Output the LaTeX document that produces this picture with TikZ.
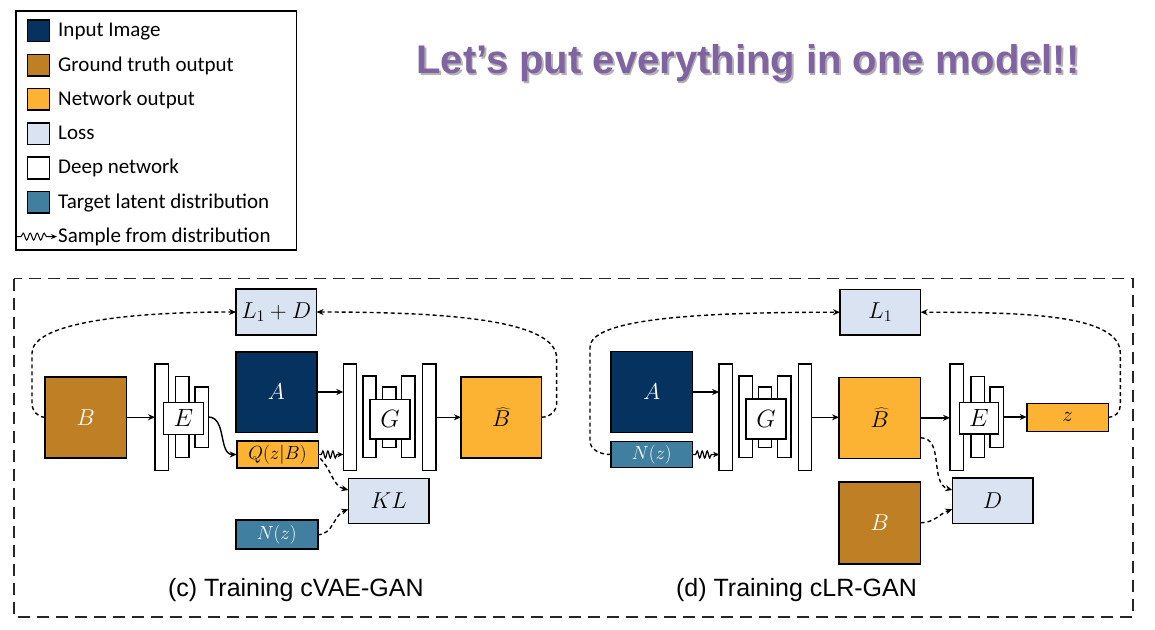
\documentclass[tikz,border=0pt]{standalone}
\usepackage{fix-cm}
\usepackage[no-math]{fontspec}
\setmainfont{Liberation Sans}
\newfontfamily\legfont{Carlito}
\usetikzlibrary{arrows.meta,decorations.pathmorphing,calc}
\definecolor{cin}{HTML}{05325E}
\definecolor{cgt}{HTML}{BF8025}
\definecolor{cnet}{HTML}{FCB232}
\definecolor{closs}{HTML}{DAE3F2}
\definecolor{clat}{HTML}{417FA0}
\definecolor{cpurple}{HTML}{8064A2}
\newcommand\mfont{\fontsize{23}{26}\selectfont}
\newcommand\bigmfont{\fontsize{25}{28}\selectfont}
\newcommand\smfont{\fontsize{19}{21}\selectfont}
\tikzset{
  box/.style={draw=black, line width=1.6pt, rectangle, inner sep=0pt, outer sep=0pt, anchor=center, font=\mfont},
  bar/.style={box, fill=white, minimum width=13.3pt},
  conn/.style={line width=1.4pt, -{Stealth[length=7pt,width=6pt]}},
  dconn/.style={conn, dash pattern=on 4pt off 3pt},
  wave/.style={line width=1.2pt, -{Stealth[length=6pt,width=5.5pt]}, decorate,
    decoration={snake, amplitude=3.5pt, segment length=5pt, pre length=3pt, post length=6pt}},
  swatch/.style={draw=black, line width=1.6pt, minimum width=22pt, minimum height=21.5pt, inner sep=0pt, anchor=center},
  legtext/.style={font=\legfont\fontsize{21}{24}\selectfont, anchor=base west, inner sep=0pt},
  caption/.style={font=\fontsize{25}{30}\selectfont, anchor=base, inner sep=0pt},
  titlefont/.style={font=\fontsize{40}{44}\bfseries\selectfont, anchor=base, inner sep=0pt},
}
\begin{document}
\begin{tikzpicture}[x=1pt,y=1pt]
\useasboundingbox (0,0) rectangle (1155,-629);
\fill[white] (0,0) rectangle (1155,-629);

% ---------------- legend ----------------
\node[draw=black, line width=1.6pt, minimum width=280.7pt, minimum height=239pt, anchor=north west, inner sep=0pt] (legend) at (15,-10) {};
\node[swatch, fill=cin]   (s1) at (38.3,-30.8) {};
\node[swatch, fill=cgt]   (s2) at (38.3,-65.1) {};
\node[swatch, fill=cnet]  (s3) at (38.3,-99.4) {};
\node[swatch, fill=closs] (s4) at (38.3,-133.7) {};
\node[swatch, fill=white] (s5) at (38.3,-168.0) {};
\node[swatch, fill=clat]  (s6) at (38.3,-202.3) {};
\coordinate (w0) at (17,-236.6);
\coordinate (w1) at (57,-236.6);
\draw[wave, line width=1pt, -{Stealth[length=6pt,width=5pt]}, decoration={snake, amplitude=3.5pt, segment length=7pt, pre length=4pt, post length=9pt}] (w0) -- (w1);
\node[legtext] (t1) at (58,-36.7) {Input Image};
\node[legtext] (t2) at (58,-71.0) {Ground truth output};
\node[legtext] (t3) at (58,-105.3) {Network output};
\node[legtext] (t4) at (58,-139.6) {Loss};
\node[legtext] (t5) at (58,-173.9) {Deep network};
\node[legtext] (t6) at (58,-208.2) {Target latent distribution};
\node[legtext] (t7) at (58,-242.5) {Sample from distribution};

% ---------------- title ----------------
\node[titlefont, text=black!30] (titleshadow) at (749.8,-75.3) {Let’s put everything in one model!!};
\node[titlefont, text=cpurple] (title) at (748,-73.3) {Let’s put everything in one model!!};

% ---------------- frame ----------------
\draw[line width=1.8pt, black!85, dash pattern=on 12pt off 7pt] (14.3,-278.5) rectangle (1133.3,-616.7);

% ================= (c) cVAE-GAN =================
\node[box, fill=closs, minimum width=80.5pt, minimum height=46pt] (L1D) at (276.3,-312) {$L_1+D$};
\node[box, fill=cgt, text=white, minimum width=81.7pt, minimum height=81pt] (B) at (85.8,-417.2) {$B$};
\node[bar, minimum height=106.7pt] (Eb1) at (161.7,-417.3) {};
\node[bar, minimum height=81pt]    (Eb2) at (182.3,-416.8) {};
\node[bar, minimum height=60.6pt]  (Eb3) at (201.7,-417.0) {};
\node[box, fill=white, minimum width=40pt, minimum height=32pt, font=\bigmfont] (E) at (183.3,-418.3) {$E$};
\node[box, fill=cin, text=white, minimum width=81pt, minimum height=80.6pt] (A) at (276.2,-392) {$A$};
\node[box, fill=cnet, minimum width=81.6pt, minimum height=27pt, font=\smfont] (Q) at (277.5,-454.5) {$Q(z|B)$};
\node[box, fill=clat, text=white, minimum width=82pt, minimum height=29pt, font=\smfont] (N1) at (276.7,-534.7) {$N(z)$};
\node[bar, minimum height=106.7pt] (Gb1) at (350.0,-417.3) {};
\node[bar, minimum height=81.7pt]  (Gb2) at (369.5,-416.8) {};
\node[bar, minimum height=60.6pt]  (Gb3) at (389.2,-417.0) {};
\node[bar, minimum height=81.7pt]  (Gb4) at (408.3,-416.8) {};
\node[bar, minimum height=106.7pt] (Gb5) at (429.3,-417.3) {};
\node[box, fill=white, minimum width=40pt, minimum height=39.7pt, font=\bigmfont] (G) at (390,-419.2) {$G$};
\node[box, fill=cnet, minimum width=80.7pt, minimum height=81pt] (Bh) at (501.3,-417.2) {$\widehat{B}$};
\node[box, fill=closs, minimum width=80.7pt, minimum height=45pt] (KL) at (388.7,-500.8) {$KL$};
\node[caption] (cap1) at (295.8,-596.7) {(c) Training cVAE-GAN};

\draw[conn] (B.east) -- (B.east -| Eb1.west);
\draw[conn] (Eb3.east) to[out=0,in=180] (Q.west);
\draw[conn] (A.east) -- (A.east -| Gb1.west);
\draw[wave] (Q.east) -- (Q.east -| Gb1.west);
\draw[conn] (Gb5.east) -- (Gb5.east -| Bh.west);
\draw[dconn] ($(Q.east)+(2,-4)$) to[out=-45,in=165] ($(KL.north west)!0.26!(KL.south west)$);
\draw[dconn] (N1.east) to[out=0,in=200] ($(KL.north west)!0.69!(KL.south west)$);
\draw[dconn] (B.west) to[out=180,in=-90] ++(-13,14) -- ++(0,50)
  to[out=90,in=180,out distance=30pt,in distance=110pt] (L1D.west);
\draw[dconn] (Bh.east) to[out=0,in=-90] ++(15,14) -- ++(0,45)
  to[out=90,in=0,out distance=40pt,in distance=120pt] (L1D.east);

% ================= (d) cLR-GAN =================
\node[box, fill=closs, minimum width=80.7pt, minimum height=45.7pt] (L1) at (880.3,-312.2) {$L_1$};
\node[box, fill=cin, text=white, minimum width=81.7pt, minimum height=81pt] (A2) at (651.8,-392) {$A$};
\node[box, fill=clat, text=white, minimum width=81.7pt, minimum height=26pt, font=\smfont] (N2) at (651.8,-454.5) {$N(z)$};
\node[bar, minimum height=106.7pt] (Hb1) at (725.8,-417.3) {};
\node[bar, minimum height=81.7pt]  (Hb2) at (745.7,-416.8) {};
\node[bar, minimum height=60.6pt]  (Hb3) at (765.0,-417.0) {};
\node[bar, minimum height=81.7pt]  (Hb4) at (784.3,-416.8) {};
\node[bar, minimum height=106.7pt] (Hb5) at (805.0,-417.3) {};
\node[box, fill=white, minimum width=40pt, minimum height=39.7pt, font=\bigmfont] (G2) at (766,-419) {$G$};
\node[box, fill=cnet, minimum width=81.7pt, minimum height=81pt] (Bh2) at (879.8,-417.8) {$\widehat{B}$};
\node[bar, minimum height=106.7pt] (Fb1) at (956.7,-417.3) {};
\node[bar, minimum height=81pt]    (Fb2) at (977.7,-416.8) {};
\node[bar, minimum height=60.6pt]  (Fb3) at (996.7,-417.0) {};
\node[box, fill=white, minimum width=39pt, minimum height=31.5pt, font=\bigmfont] (E2) at (978.8,-418.3) {$E$};
\node[box, fill=cnet, minimum width=81.6pt, minimum height=28pt, font=\fontsize{21}{23}\selectfont] (Z) at (1067.5,-417.4) {$z$};
\node[box, fill=closs, minimum width=80.4pt, minimum height=45.6pt] (D) at (992.5,-500.5) {$D$};
\node[box, fill=cgt, text=white, minimum width=81.7pt, minimum height=82pt] (B2) at (879.8,-522.8) {$B$};
\node[caption] (cap2) at (796.5,-596.7) {(d) Training cLR-GAN};

\draw[conn] (A2.east) -- (A2.east -| Hb1.west);
\draw[wave] (N2.east) -- (N2.east -| Hb1.west);
\draw[conn] (Hb5.east) -- (Hb5.east -| Bh2.west);
\draw[conn] (Bh2.east) -- (Bh2.east -| Fb1.west);
\draw[conn] (Fb3.east) -- (Fb3.east -| Z.west);
\draw[dconn] ($(Bh2.east)+(0,-20)$) to[out=0,in=165] ($(D.north west)!0.27!(D.south west)$);
\draw[dconn] (B2.east) to[out=0,in=200] ($(D.north west)!0.69!(D.south west)$);
\draw[dconn] (N2.west) to[out=180,in=-90] ++(-21,14) -- ++(0,93)
  to[out=90,in=180,out distance=28pt,in distance=150pt] (L1.west);
\draw[dconn] (Z.east) to[out=0,in=-90] ++(12,12) -- ++(0,52)
  to[out=90,in=0,out distance=38pt,in distance=110pt] (L1.east);
\end{tikzpicture}
\end{document}
